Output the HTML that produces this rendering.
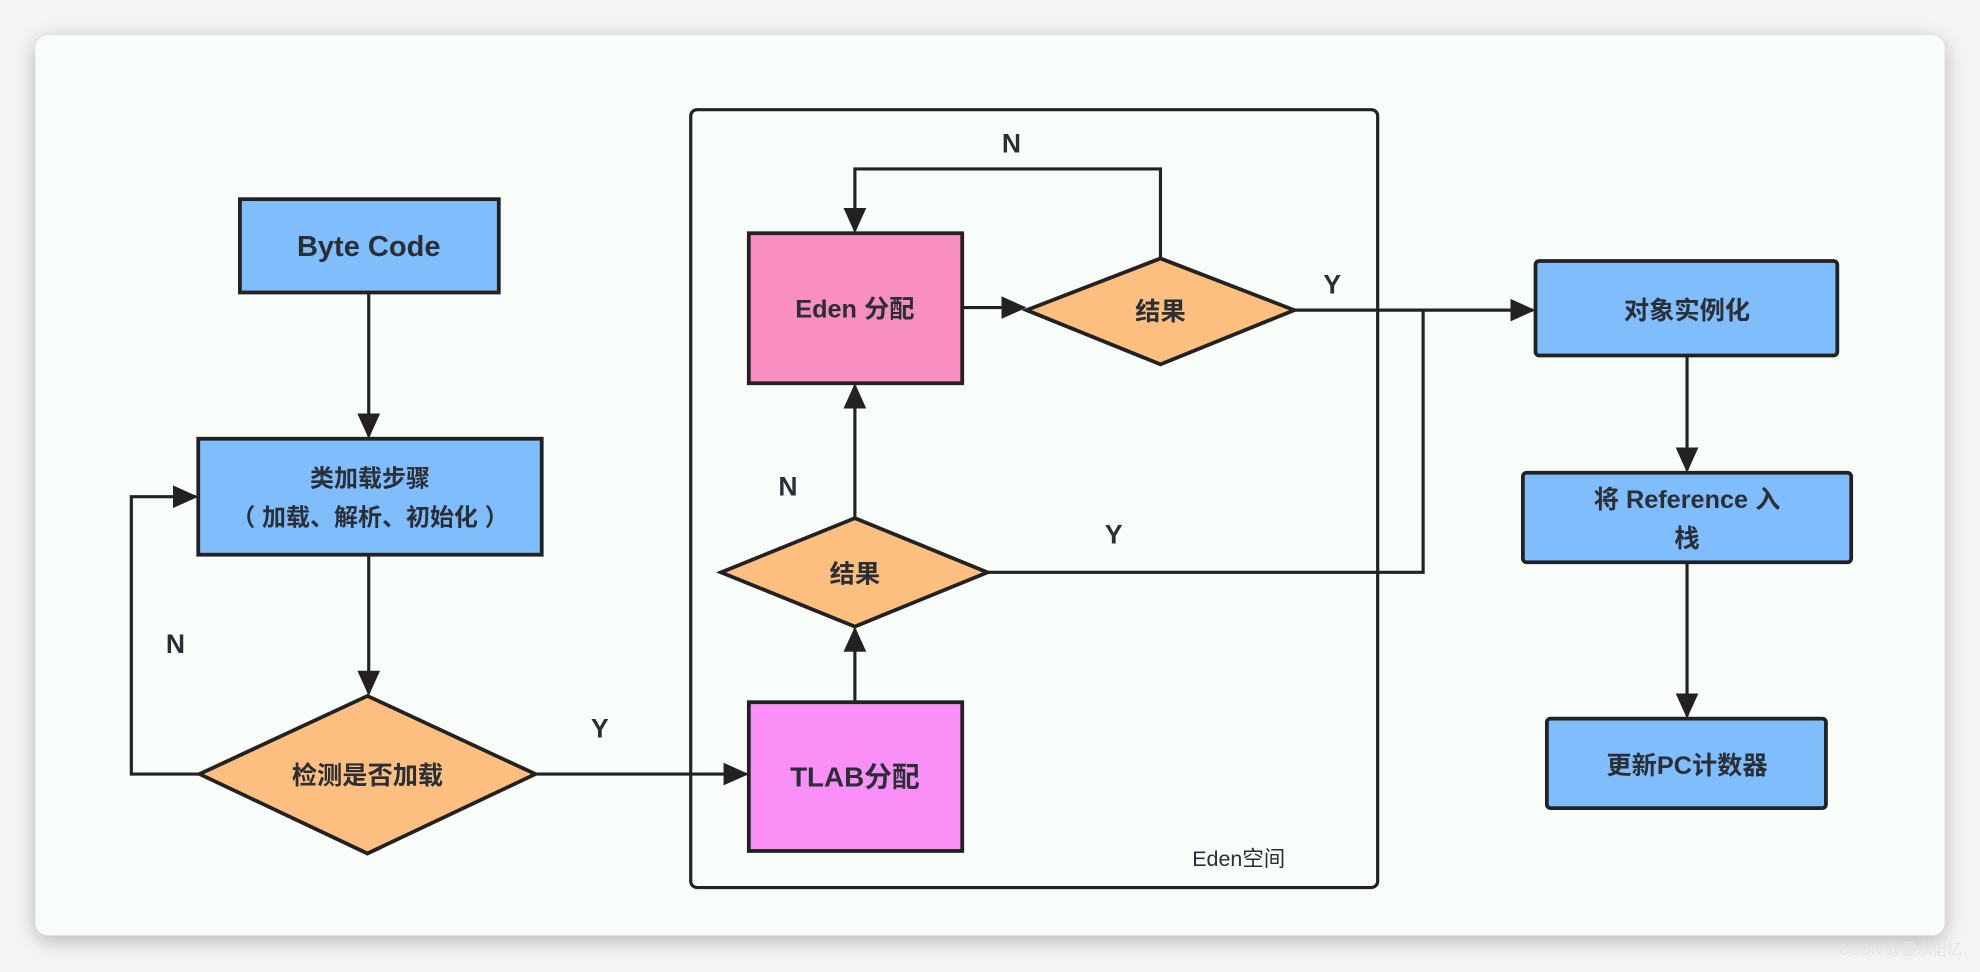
<!DOCTYPE html>
<html><head><meta charset="utf-8"><style>
html,body{margin:0;padding:0;width:1980px;height:972px;overflow:hidden;background:#f3f4f3;}
svg{display:block}
text{font-family:"Liberation Sans","Noto Sans CJK SC",sans-serif;font-weight:bold;fill:#2a2f36;}
</style></head><body>
<svg width="1980" height="972" viewBox="0 0 1568 771" preserveAspectRatio="none">
<defs>
<marker id="ah" markerWidth="10" markerHeight="10" refX="9" refY="5" orient="auto" markerUnits="userSpaceOnUse"><path d="M0,0 L10,5 L0,10 z" fill="#222"/></marker>
<marker id="ahb" markerWidth="20" markerHeight="18" refX="18" refY="9" orient="auto" markerUnits="userSpaceOnUse"><path d="M0,0 L20,9 L0,18 z" fill="#222"/></marker>
<filter id="sh" x="-5%" y="-5%" width="110%" height="110%"><feGaussianBlur stdDeviation="8"/></filter>
</defs>
<rect x="0" y="0" width="1568" height="771" fill="#f4f4f4"/>
<rect x="28" y="32" width="1512" height="714" rx="10" fill="#000" opacity="0.25" filter="url(#sh)"/>
<rect x="28" y="28" width="1512" height="714" rx="10" fill="#f9fdf9"/>
<g stroke="#222" stroke-width="2.5" fill="none">
<rect x="547" y="87" width="544" height="617" rx="5"/>
<path d="M292,232 V346" marker-end="url(#ahb)"/>
<path d="M292,440 V550" marker-end="url(#ahb)"/>
<path d="M158,614 H104 V394 H155" marker-end="url(#ahb)"/>
<path d="M424,614 H591" marker-end="url(#ahb)"/>
<path d="M677,557 V499" marker-end="url(#ahb)"/>
<path d="M677,411 V306" marker-end="url(#ahb)"/>
<path d="M762,244 H811" marker-end="url(#ahb)"/>
<path d="M919,205 V134 H677 V183" marker-end="url(#ahb)"/>
<path d="M1025,246 H1214" marker-end="url(#ahb)"/>
<path d="M782,454 H1127 V246"/>
<path d="M1336,282 V373" marker-end="url(#ahb)"/>
<path d="M1336,446 V568" marker-end="url(#ahb)"/>
</g>
<g stroke="#222" stroke-width="3">
<rect x="190" y="158" width="205" height="74" fill="#80bdfd"/>
<rect x="157" y="348" width="272" height="92" fill="#80bdfd"/>
<polygon points="291,552 424,614 291,677 158,614" fill="#fdbf7f"/>
<rect x="593" y="185" width="169" height="119" fill="#f98fc0"/>
<polygon points="919,205 1025,246 919,289 813,246" fill="#fdbf7f"/>
<polygon points="677,411 782,454 677,497 571,454" fill="#fdbf7f"/>
<rect x="593" y="557" width="169" height="118" fill="#f98ff7"/>
<rect x="1216" y="207" width="239" height="75" rx="3" fill="#80bdfd"/>
<rect x="1206" y="375" width="260" height="71" rx="3" fill="#80bdfd"/>
<rect x="1225" y="570" width="221" height="71" rx="3" fill="#80bdfd"/>
</g>
<g text-anchor="middle" font-size="21">
<text x="292" y="203" font-size="23">Byte Code</text>
<text x="293" y="386" font-size="19">类加载步骤</text>
<text x="293" y="417" font-size="19">（ 加载、解析、初始化 ）</text>
<text x="291" y="622" font-size="20">检测是否加载</text>
<text x="677" y="252" font-size="20">Eden 分配</text>
<text x="919" y="254" font-size="20">结果</text>
<text x="677" y="462" font-size="20">结果</text>
<text x="677" y="624" font-size="22">TLAB分配</text>
<text x="1336" y="253" font-size="20">对象实例化</text>
<text x="1336" y="403" font-size="20">将 Reference 入</text>
<text x="1336" y="434" font-size="20">栈</text>
<text x="1336" y="614" font-size="20">更新PC计数器</text>
<text x="139" y="518">N</text>
<text x="475" y="585">Y</text>
<text x="624" y="393">N</text>
<text x="801" y="121">N</text>
<text x="1055" y="233">Y</text>
<text x="882" y="431">Y</text>
<text x="981" y="687" font-size="17" style="font-weight:normal">Eden空间</text>
<text x="1505" y="757" font-size="12" style="font-weight:normal;fill:#e4e4e4">CSDN @墨水记忆</text>
</g>
</svg>
</body></html>
